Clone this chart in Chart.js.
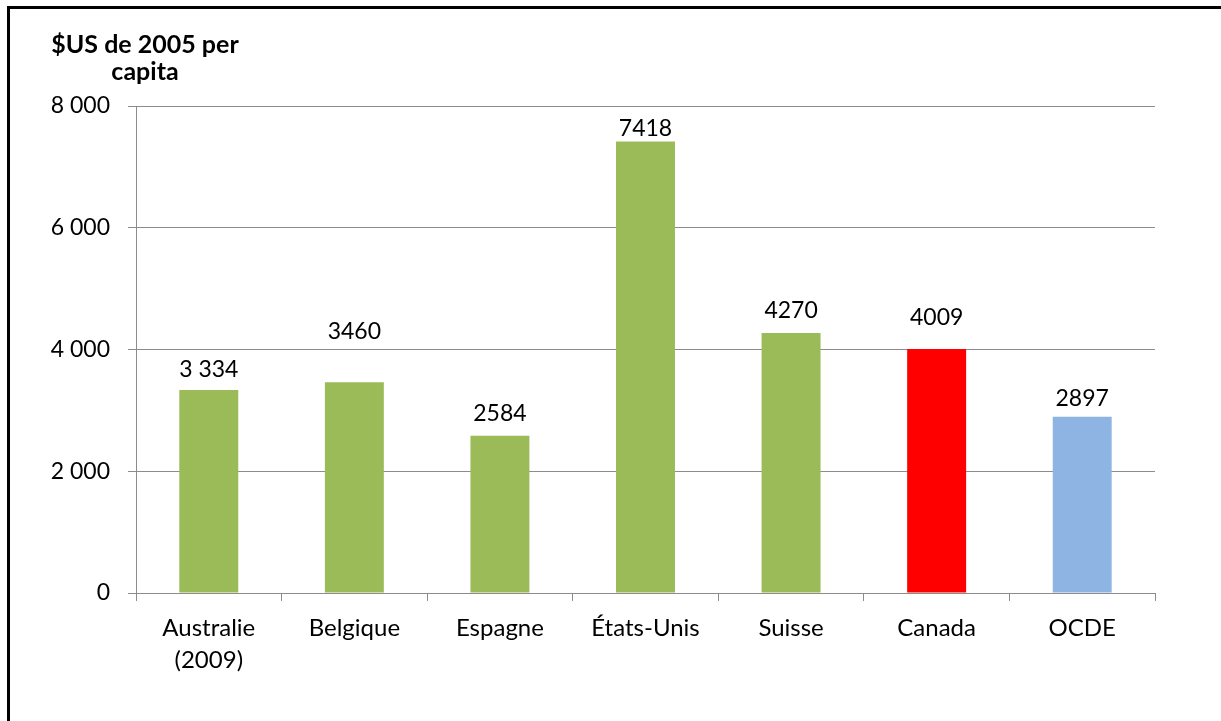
<!DOCTYPE html>
<html>
<head>
<meta charset="utf-8">
<script src="https://cdn.jsdelivr.net/npm/chart.js@4"></script>
<style>
  html, body { margin:0; padding:0; background:#fff; overflow:hidden; }
  #frame { position:absolute; left:7px; top:6px; width:1300px; height:800px; border-left:3px solid #000; border-top:3px solid #000; }
  #wrap { position:absolute; left:0; top:0; width:1221px; height:721px; }
</style>
</head>
<body>
<div id="frame"></div>
<div id="wrap"><canvas id="chart" width="1221" height="721"></canvas></div>
<script>
// data
const categories = [['Australie','(2009)'], 'Belgique', 'Espagne', 'États-Unis', 'Suisse', 'Canada', 'OCDE'];
const values = [3334, 3460, 2584, 7418, 4270, 4009, 2897];
const valueLabels = ['3 334', '3460', '2584', '7418', '4270', '4009', '2897'];
const barColors = ['#9BBB59', '#9BBB59', '#9BBB59', '#9BBB59', '#9BBB59', '#FF0000', '#8EB4E3'];
const yTitle = ['$US de 2005 per', 'capita'];
// labels were hand-placed in the original, so each one sits at its own height above the bar
const labelLift = [20, 51, 22, 13, 22, 31, 18];

const FONT = 'Lato, "Open Sans", sans-serif';
const GRID = '#8c8c8c';

const fmt = v => String(v).replace(/\B(?=(\d{3})+(?!\d))/g, ' ');

// draws value labels and the axis title
const labelPlugin = {
  id: 'labels',
  afterDatasetsDraw(chart){
    const ctx = chart.ctx;
    const meta = chart.getDatasetMeta(0);
    ctx.save();
    ctx.fillStyle = '#000';
    ctx.font = '23px ' + FONT;
    ctx.textAlign = 'center';
    ctx.textBaseline = 'middle';
    meta.data.forEach((bar, i) => {
      ctx.fillText(valueLabels[i], bar.x, bar.y - labelLift[i]);
    });
    ctx.font = 'bold 25px ' + FONT;
    ctx.fillText(yTitle[0], 145, 45);
    ctx.fillText(yTitle[1], 145, 72);
    ctx.restore();
  }
};

new Chart(document.getElementById('chart'), {
  type: 'bar',
  data: {
    labels: categories,
    datasets: [{ data: values, backgroundColor: barColors, borderWidth: 0, barPercentage: 0.81, categoryPercentage: 0.5 }]
  },
  options: {
    responsive: false,
    animation: false,
    devicePixelRatio: 1,
    layout: { padding: { top: 106, right: 66, left: 0, bottom: 0 } },
    plugins: { legend: { display: false }, tooltip: { enabled: false } },
    scales: {
      x: {
        offset: true,
        border: { color: GRID, width: 1 },
        grid: { offset: true, drawOnChartArea: false, drawTicks: true, tickLength: 8, color: GRID },
        ticks: { color: '#000', font: { family: FONT, size: 24, lineHeight: 1.33 }, padding: 11, maxRotation: 0, autoSkip: false },
        afterFit(s){ s.height = 721 - 593; }
      },
      y: {
        min: 0, max: 8000,
        border: { color: GRID, width: 1 },
        grid: { color: GRID, tickLength: 8 },
        ticks: { stepSize: 2000, color: '#000', font: { family: FONT, size: 23 }, padding: 18, callback: v => fmt(v) },
        afterFit(s){ s.width = 136; }
      }
    }
  },
  plugins: [labelPlugin]
});
</script>
</body>
</html>
